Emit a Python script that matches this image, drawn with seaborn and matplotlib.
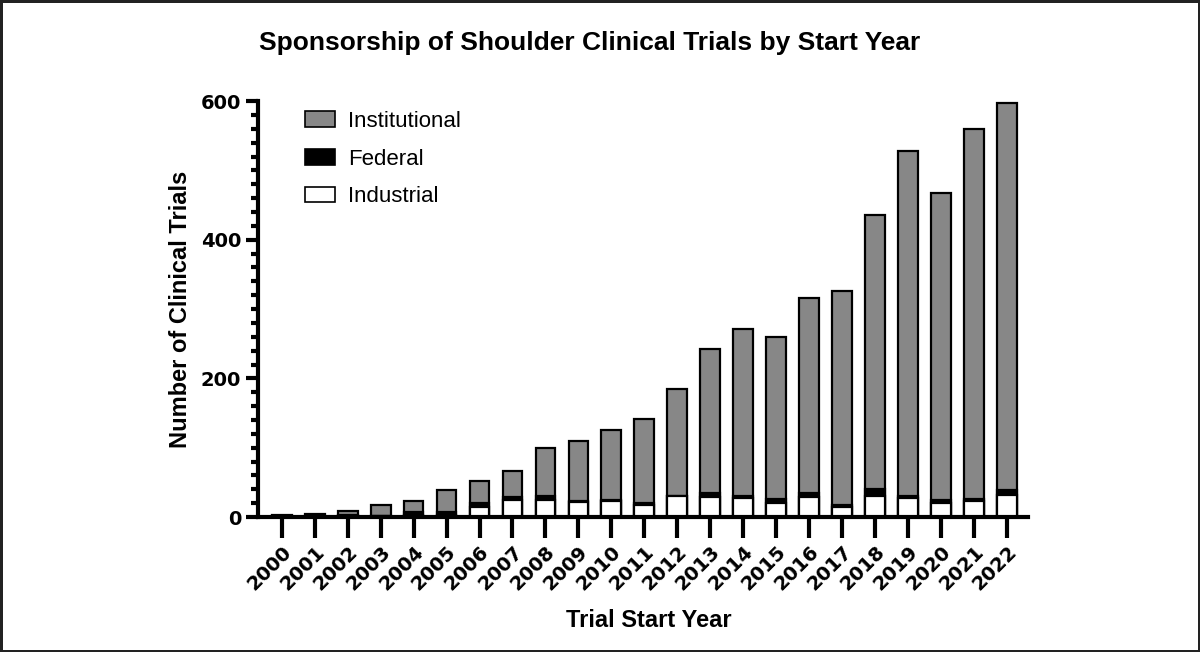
import pandas as pd
import numpy as np
import matplotlib
matplotlib.use("Agg")
import matplotlib.pyplot as plt
import seaborn as sns
from matplotlib.patches import Patch
from matplotlib.ticker import MultipleLocator

years = [str(y) for y in range(2000, 2023)]
total = [3, 5, 9, 17, 23, 39, 52, 66, 99, 110, 126, 141, 184, 242, 271, 260,
         316, 326, 435, 528, 467, 559, 597]
industrial = [1, 1, 2, 1, 3, 3, 15, 25, 25, 22, 23, 18, 30, 29, 28, 20,
              29, 14, 31, 27, 20, 23, 32]
federal = [0, 0, 1, 0, 4, 4, 5, 4, 5, 1, 2, 2, 1, 5, 3, 6,
           5, 4, 9, 4, 4, 3, 7]
institutional = [t - i - f for t, i, f in zip(total, industrial, federal)]

df = pd.DataFrame({"year": years, "industrial": industrial, "federal": federal,
                   "institutional": institutional})
df["fed_top"] = df["industrial"] + df["federal"]
df["total"] = df["fed_top"] + df["institutional"]

sns.set_style("ticks")
plt.rcParams["font.family"] = ["Liberation Sans", "DejaVu Sans"]
plt.rcParams["text.color"] = "black"
plt.rcParams["axes.labelcolor"] = "black"
plt.rcParams["xtick.color"] = "black"
plt.rcParams["ytick.color"] = "black"
plt.rcParams["axes.edgecolor"] = "black"

fig = plt.figure(figsize=(12, 6.52), dpi=100)
fig.patch.set_edgecolor("#222222")
fig.patch.set_linewidth(2.5)
ax = fig.add_axes([0.215, 0.207, 0.642, 0.638])

gray = "#878787"
bar_kw = dict(edgecolor="black", linewidth=1.6, width=0.6, errorbar=None, ax=ax)
sns.barplot(data=df, x="year", y="total", color=gray, saturation=1, **bar_kw)
sns.barplot(data=df, x="year", y="fed_top", color="black", saturation=1, **bar_kw)
sns.barplot(data=df, x="year", y="industrial", color="white", saturation=1, **bar_kw)

ax.set_xlim(-0.72, 22.65)
ax.set_ylim(0, 600)
ax.set_yticks([0, 200, 400, 600])
ax.yaxis.set_minor_locator(MultipleLocator(20))
sns.despine(ax=ax)
for s in ["left", "bottom"]:
    ax.spines[s].set_linewidth(3)
ax.tick_params(axis="y", which="major", length=9, width=3, pad=3)
ax.tick_params(axis="y", which="minor", length=5, width=3)
ax.tick_params(axis="x", which="major", length=15, width=3, pad=3)
tick_font = dict(family="DejaVu Sans", weight="bold", size=14)
for lab in ax.get_xticklabels():
    lab.set_rotation(45)
    lab.set_ha("right")
    lab.set_rotation_mode("anchor")
    lab.set_fontproperties(tick_font)
for lab in ax.get_yticklabels():
    lab.set_fontproperties(tick_font)

ax.set_xlabel("Trial Start Year", fontsize=17, fontweight="bold")
ax.xaxis.set_label_coords(0.507, -0.222)
ax.set_ylabel("Number of Clinical Trials", fontsize=17, fontweight="bold")
ax.yaxis.set_label_coords(-0.086, 0.5)
fig.text(590 / 1200, 1 - 43 / 652, "Sponsorship of Shoulder Clinical Trials by Start Year",
         fontsize=19, fontweight="bold", ha="center", va="center")

handles = [Patch(facecolor=gray, edgecolor="black", linewidth=1.2, label="Institutional"),
           Patch(facecolor="black", edgecolor="black", linewidth=1.2, label="Federal"),
           Patch(facecolor="white", edgecolor="black", linewidth=1.2, label="Industrial")]
ax.legend(handles=handles, loc="upper left", bbox_to_anchor=(305 / 1200, 1 - 111 / 652),
          bbox_transform=fig.transFigure, frameon=False, borderpad=0, borderaxespad=0,
          fontsize=16, handlelength=1.35, handleheight=0.7, labelspacing=0.75,
          handletextpad=0.6)

fig.savefig("out.png", dpi=100)
